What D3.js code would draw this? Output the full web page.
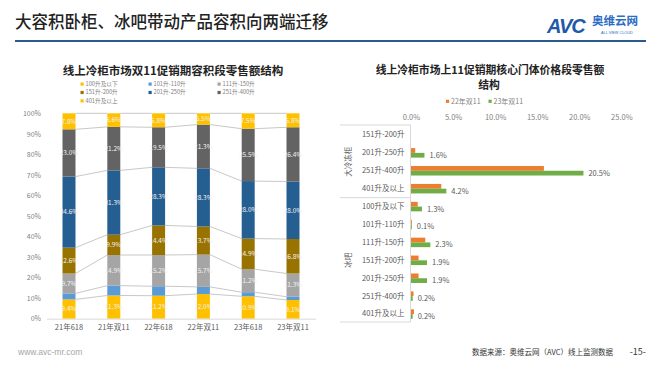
<!DOCTYPE html>
<html><head><meta charset="utf-8">
<script src="https://cdn.jsdelivr.net/npm/d3@7/dist/d3.min.js"></script>
<style>
html,body{margin:0;padding:0;background:#fff;}
svg{display:block;font-family:"Noto Sans CJK SC","Noto Sans",sans-serif;}
</style></head>
<body>
<svg id="c" width="660" height="372"></svg>
<script>
// ---------- data ----------
const periods = ["21年618","21年双11","22年618","22年双11","23年618","23年双11"];
const segNames = ["100升及以下","101升-110升","111升-150升","151升-200升","201升-250升","251升-400升","401升及以上"];
const s100 = [9.4, 11.3, 11.2, 12.0, 10.9, 9.1];
const s101 = [2.9, 4.8, 4.6, 3.5, 2.0, 1.6];
const s111 = [9.7, 14.9, 15.2, 15.7, 11.2, 11.3];
const s151 = [12.6, 9.9, 14.4, 13.7, 14.9, 16.8];
const s201 = [34.6, 31.3, 28.3, 28.3, 28.0, 28.0];
const s251 = [23.0, 21.2, 19.5, 21.3, 25.5, 26.4];
const s401 = [7.8, 6.6, 6.8, 5.5, 7.5, 6.8];
const yTicks = [0,10,20,30,40,50,60,70,80,90,100];

const priceCats = ["151升-200升","201升-250升","251升-400升","401升及以上",
                   "100升及以下","101升-110升","111升-150升","151升-200升","201升-250升","251升-400升","401升及以上"];
const groupNames = ["大冷冻柜","冰吧"];
const groupSizes = [4, 7];
const seriesNames = ["22年双11","23年双11"];
const v22 = [0, 0.5, 15.8, 3.6, 0.8, 0.1, 1.7, 0.9, 0.9, 0.3, 0.35];
const v23 = [0, 1.6, 20.5, 4.2, 1.3, 0.1, 2.3, 1.9, 1.9, 0.2, 0.2];
const xTicks = [0,5,10,15,20,25];

// ---------- styles ----------
const segColors = ["#FFC000","#5B9BD5","#A5A5A5","#997300","#255E91","#636363","#FFC000"];
const barColors = ["#ED7D31","#70AD47"];

const svg = d3.select("#c");

// ---------- header ----------
svg.append("text").attr("x",15).attr("y",28).attr("font-size",16.5).attr("font-weight",500)
  .attr("fill","#222").text("大容积卧柜、冰吧带动产品容积向两端迁移");
svg.append("line").attr("x1",15).attr("x2",646).attr("y1",41).attr("y2",41)
  .attr("stroke","#2a5a8e").attr("stroke-width",2);
// logo
svg.append("text").attr("x",547).attr("y",33).attr("font-size",20).attr("font-weight",900)
  .attr("font-style","italic").attr("font-family","Liberation Sans, Arial, sans-serif")
  .attr("fill","#1f5aa8").attr("letter-spacing",-1).text("AVC");
svg.append("text").attr("x",592).attr("y",25).attr("font-size",11.5).attr("font-weight",700)
  .attr("fill","#2b6cc4").text("奥维云网");
svg.append("text").attr("x",601).attr("y",34).attr("font-size",3.8).attr("fill","#2b6cc4")
  .attr("font-family","Liberation Sans, Arial, sans-serif").text("ALL VIEW CLOUD");

// ---------- footer ----------
svg.append("text").attr("x",18).attr("y",355).attr("font-size",8.5).attr("fill","#a6a6a6")
  .attr("font-family","Liberation Sans, Arial, sans-serif").text("www.avc-mr.com");
svg.append("text").attr("x",613).attr("y",355).attr("font-size",7.5).attr("fill","#333")
  .attr("text-anchor","end").text("数据来源：奥维云网（AVC）线上监测数据");
svg.append("text").attr("x",646).attr("y",355).attr("font-size",9).attr("fill","#333")
  .attr("text-anchor","end").text("-15-");

// ---------- left chart ----------
const L = svg.append("g");
L.append("text").attr("x",173).attr("y",74.5).attr("text-anchor","middle").attr("font-size",11.5)
  .attr("font-weight",700).attr("fill","#222").text("线上冷柜市场双11促销期容积段零售额结构");

// legend
const legCols = [82,150,219];
segNames.forEach((n,i)=>{
  const cx = legCols[i%3], cy = 84 + Math.floor(i/3)*8.4;
  L.append("rect").attr("x",cx-1.5).attr("y",cy-1.5).attr("width",3.2).attr("height",3.2).attr("fill",segColors[i]);
  L.append("text").attr("x",cx+3.5).attr("y",cy).attr("dy","0.35em").attr("font-size",5.7)
    .attr("fill","#7f7f7f").text(n);
});

const x = d3.scaleBand().domain(periods).range([46.6,315.4]).paddingInner(0.71).paddingOuter(0.355);
const y = d3.scaleLinear().domain([0,100]).range([318.7,113.3]);

const seriesVals = [s100,s101,s111,s151,s201,s251,s401];
const rows = periods.map((p,i)=>{ const o={period:p}; segNames.forEach((n,k)=>o[n]=seriesVals[k][i]); return o; });
const stacked = d3.stack().keys(segNames)(rows);

// connector lines
stacked.forEach((layer,k)=>{
  for(let i=0;i<periods.length-1;i++){
    L.append("line")
      .attr("x1",x(periods[i])+x.bandwidth()).attr("x2",x(periods[i+1]))
      .attr("y1",y(layer[i][1])).attr("y2",y(layer[i+1][1]))
      .attr("stroke","#c8c8c8").attr("stroke-width",1);
  }
});

// bars
const layers = L.selectAll("g.layer").data(stacked).join("g").attr("class","layer")
  .attr("fill",(d,i)=>segColors[i]);
layers.selectAll("rect").data(d=>d).join("rect")
  .attr("x",d=>x(d.data.period)).attr("width",x.bandwidth())
  .attr("y",d=>y(d[1])).attr("height",d=>y(d[0])-y(d[1]));

// segment labels
stacked.forEach((layer,k)=>{
  if(k===1) return;
  layer.forEach(d=>{
    L.append("text").attr("x",x(d.data.period)+x.bandwidth()/2).attr("y",(y(d[0])+y(d[1]))/2)
      .attr("dy","0.35em").attr("text-anchor","middle").attr("font-size",6.5)
      .attr("fill","#f2f2f2").text((d[1]-d[0]).toFixed(1)+"%");
  });
});

// axes
const ya = L.append("g").attr("transform","translate(46,0)")
  .call(d3.axisLeft(y).tickValues(yTicks).tickFormat(d=>d+"%").tickSize(0).tickPadding(5));
ya.select(".domain").remove();
ya.selectAll("text").attr("font-size",7).attr("fill","#7f7f7f").attr("font-family","Noto Sans CJK SC");

const xa = L.append("g").attr("transform",`translate(0,${y(0)})`)
  .call(d3.axisBottom(x).tickSize(0).tickPadding(6));
xa.select(".domain").attr("stroke","#d9d9d9");
xa.selectAll("text").attr("font-size",7.5).attr("fill","#595959").attr("font-family","Noto Sans CJK SC");

// ---------- right chart ----------
const R = svg.append("g");
R.append("text").attr("x",490).attr("y",73.5).attr("text-anchor","middle").attr("font-size",10.8)
  .attr("font-weight",700).attr("fill","#222").text("线上冷柜市场上11促销期核心门体价格段零售额");
R.append("text").attr("x",489).attr("y",89.3).attr("text-anchor","middle").attr("font-size",10.8)
  .attr("font-weight",700).attr("fill","#222").text("结构");
// legend
[[447.5,0],[490,1]].forEach(([lx,i])=>{
  R.append("rect").attr("x",lx-1.5).attr("y",99.7).attr("width",3.2).attr("height",3.2).attr("fill",barColors[i]);
  R.append("text").attr("x",lx+3.5).attr("y",101.3).attr("dy","0.35em").attr("font-size",7)
    .attr("fill","#7f7f7f").text(seriesNames[i]);
});

const idx = priceCats.map((d,i)=>i);
const xr = d3.scaleLinear().domain([0,25]).range([411,621.3]);
const yr = d3.scaleBand().domain(idx).range([126,323]).paddingInner(0.47).paddingOuter(0.235);
const ys = d3.scaleBand().domain([0,1]).range([0,yr.bandwidth()]);

// top axis
const ta = R.append("g").attr("transform","translate(0,124)")
  .call(d3.axisTop(xr).tickValues(xTicks).tickFormat(d=>d.toFixed(1)+"%").tickSize(0).tickPadding(4));
ta.select(".domain").remove();
ta.selectAll("text").attr("font-size",7.5).attr("fill","#7f7f7f").attr("font-family","Noto Sans CJK SC");

// category axis
const ca = R.append("g").attr("transform","translate(410.5,0)")
  .call(d3.axisLeft(yr).tickFormat(i=>priceCats[i]).tickSize(0).tickPadding(6));
ca.select(".domain").remove();
ca.selectAll("text").attr("font-size",7.5).attr("fill","#595959").attr("font-family","Noto Sans CJK SC");

// frame lines
R.append("line").attr("x1",410.5).attr("x2",410.5).attr("y1",125).attr("y2",322).attr("stroke","#d9d9d9");
let start = 0;
const sepYs = [125];
groupSizes.forEach((n,g)=>{
  const y0 = yr(start) - yr.step()*yr.paddingInner()/2;
  const y1 = yr(start+n-1) + yr.bandwidth() + yr.step()*yr.paddingInner()/2;
  sepYs.push(g===groupSizes.length-1 ? 322 : y1);
  R.append("text").attr("transform",`translate(348,${(y0+y1)/2}) rotate(-90)`)
    .attr("text-anchor","middle").attr("dy","0.35em").attr("font-size",7.5).attr("fill","#595959")
    .text(groupNames[g]);
  start += n;
});
sepYs.forEach(v=>R.append("line").attr("x1",340).attr("x2",410.5).attr("y1",v).attr("y2",v).attr("stroke","#d9d9d9"));

// bars
[v22,v23].forEach((vals,s)=>{
  R.append("g").attr("fill",barColors[s]).selectAll("rect").data(vals).join("rect")
    .attr("x",xr(0)).attr("y",(d,i)=>yr(i)+ys(s)).attr("height",ys.bandwidth())
    .attr("width",d=>xr(d)-xr(0));
});
// labels (23年双11)
R.append("g").selectAll("text").data(v23.map((v,i)=>({v,i})).filter(d=>d.v>0)).join("text")
  .attr("x",d=>xr(d.v)+5).attr("y",d=>yr(d.i)+ys(1)+ys.bandwidth()/2)
  .attr("dy","0.35em").attr("font-size",7.5).attr("fill","#595959")
  .text(d=>d.v.toFixed(1)+"%");
</script>
</body></html>
